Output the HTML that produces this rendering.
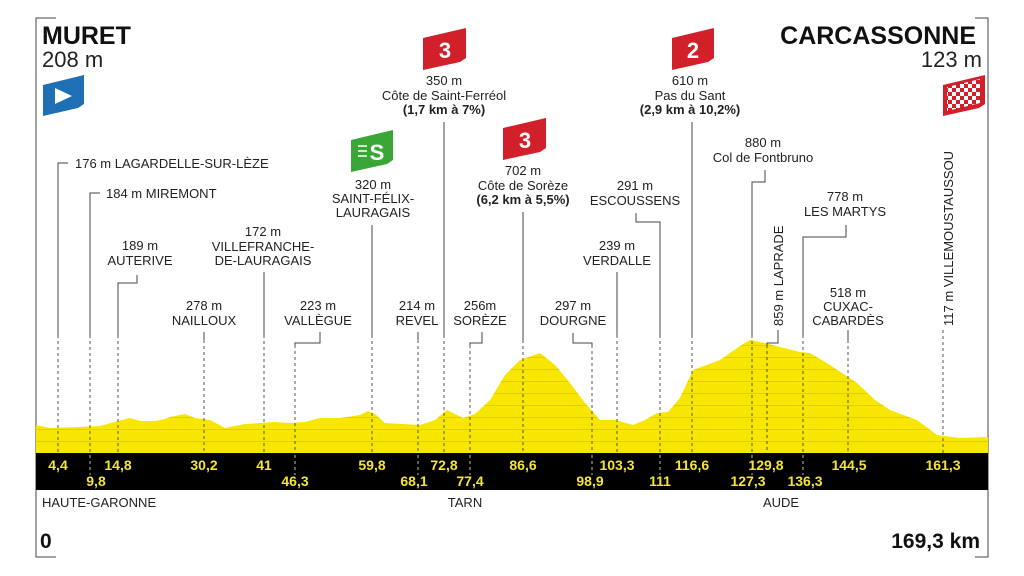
<!DOCTYPE html>
<html><head><meta charset="utf-8"><style>
html,body{margin:0;padding:0;background:#fff;}
svg{display:block;font-family:"Liberation Sans",sans-serif;}
.l{font-size:13px;fill:#222;text-anchor:middle;}
.ls{font-size:13px;fill:#222;}
.b{font-weight:bold;}
.k{font-size:14px;font-weight:bold;fill:#f3e33a;text-anchor:middle;}
.sl{stroke:#444;stroke-width:1;fill:none;}
.dl{stroke:#555;stroke-width:1;stroke-dasharray:3,3;fill:none;}
.db{stroke:#bbb;stroke-width:1;stroke-dasharray:3,3;fill:none;}
</style></head><body>
<svg width="1024" height="576" viewBox="0 0 1024 576" xmlns="http://www.w3.org/2000/svg">
<defs>
<pattern id="st" width="10" height="12" patternUnits="userSpaceOnUse" y="453">
<rect width="10" height="12" fill="#f7e600"/><rect y="0" width="10" height="1" fill="#e2cd00"/>
</pattern>
<pattern id="chk" width="8" height="8" patternUnits="userSpaceOnUse">
<rect width="8" height="8" fill="#fff"/><rect width="4" height="4" fill="#d2202a"/><rect x="4" y="4" width="4" height="4" fill="#d2202a"/>
</pattern>
</defs>
<!-- frame -->
<path d="M56,18 H36 V557 H56" class="sl" stroke="#888"/>
<path d="M975,18 H988 V557 H975" class="sl" stroke="#888"/>
<!-- titles -->
<text x="42" y="44" font-size="25" font-weight="bold" fill="#111">MURET</text>
<text x="42" y="67" font-size="22" fill="#222">208 m</text>
<text x="976" y="44" font-size="25" font-weight="bold" fill="#111" text-anchor="end">CARCASSONNE</text>
<text x="982" y="67" font-size="22" fill="#222" text-anchor="end">123 m</text>
<!-- start icon -->
<path d="M43,85 L84,75 L84,104 L78,108 L43,116 Z" fill="#1f6fb5"/>
<path d="M55,88 L72,96 L55,104 Z" fill="#fff"/>
<!-- finish -->
<path d="M943,85 L985,75 L985,104 L979,108 L943,116 Z" fill="#d2202a"/>
<path d="M947,87 L980,79 L980,103 L947,111 Z" fill="url(#chk)"/>
<!-- cat icons -->
<g font-weight="bold" font-size="22" fill="#fff" text-anchor="middle">
<path d="M423,38 L466,28 L466,58 L460,62 L423,70 Z" fill="#d2202a"/><text x="445" y="58">3</text>
<path d="M503,128 L546,118 L546,148 L540,152 L503,160 Z" fill="#d2202a"/><text x="525" y="148">3</text>
<path d="M672,38 L714,28 L714,58 L708,62 L672,70 Z" fill="#d2202a"/><text x="693" y="58">2</text>
<path d="M351,140 L393,130 L393,160 L387,164 L351,172 Z" fill="#3aa635"/><text x="377" y="160">S</text>
<path d="M358,146h9M358,151h9M358,156h9" stroke="#fff" stroke-width="1.5"/>
</g>
<!-- profile -->
<path d="M36,425 L50,428 L80,427 L100,426 L118,421 L130,418 L140,421 L155,421 L165,419 L170,417 L185,414 L195,418 L210,420 L225,428 L245,424 L275,422 L290,423 L305,422 L320,418 L340,418 L360,415 L368,411 L375,414 L385,423 L420,425 L435,420 L447,410 L455,414 L463,418 L475,414 L490,400 L505,375 L520,360 L540,353 L555,365 L570,383 L585,403 L600,420 L615,420 L633,425 L645,420 L657,413 L668,412 L680,398 L693,370 L720,360 L740,346 L750,340 L765,343 L780,347 L800,352 L810,353 L830,365 L857,383 L875,400 L890,410 L917,420 L937,435 L960,438 L988,437 L988,453 L36,453 Z" fill="url(#st)"/>
<rect x="36" y="453" width="952" height="37" fill="#000"/>
<!-- connectors -->
<g class="sl">
<path d="M68,163 H58 V335"/>
<path d="M100,193 H90 V335"/>
<path d="M137,275 V283 H118 V335"/>
<path d="M204,332 V340"/>
<path d="M264,272 V335"/>
<path d="M320,332 V343 H295 V345"/>
<path d="M372,225 V335"/>
<path d="M418,332 V340"/>
<path d="M444,122 V335"/>
<path d="M482,332 V343 H470 V345"/>
<path d="M523,212 V340"/>
<path d="M573,333 V343 H592 V345"/>
<path d="M617,272 V335"/>
<path d="M636,213 V222 H660 V335"/>
<path d="M692,122 V335"/>
<path d="M765,170 V182 H752 V335"/>
<path d="M778,330 V343 H767 V345"/>
<path d="M846,225 V237 H803 V335"/>
<path d="M848,330 V340"/>
</g>
<g class="dl">
<path d="M58,335V453M90,335V453M118,335V453M204,340V453M264,335V453M295,345V453M372,335V453M418,340V453M444,335V453M470,345V453M523,340V453M592,345V453M617,335V453M660,335V453M692,335V453M752,335V453M767,345V453M803,335V453M848,340V453M943,330V453"/>
</g>
<g class="db">
<path d="M90,455V475M295,455V475M418,455V475M470,455V475M592,455V475M660,455V475M752,455V475M803,455V475"/>
</g>
<!-- labels -->
<text class="ls" x="75" y="168">176 m LAGARDELLE-SUR-LÈZE</text>
<text class="ls" x="106" y="198">184 m MIREMONT</text>
<text class="l" x="140" y="250">189 m</text><text class="l" x="140" y="265">AUTERIVE</text>
<text class="l" x="204" y="310">278 m</text><text class="l" x="204" y="325">NAILLOUX</text>
<text class="l" x="263" y="236">172 m</text><text class="l" x="263" y="251">VILLEFRANCHE-</text><text class="l" x="263" y="265">DE-LAURAGAIS</text>
<text class="l" x="318" y="310">223 m</text><text class="l" x="318" y="325">VALLÈGUE</text>
<text class="l" x="373" y="189">320 m</text><text class="l" x="373" y="203">SAINT-FÉLIX-</text><text class="l" x="373" y="217">LAURAGAIS</text>
<text class="l" x="417" y="310">214 m</text><text class="l" x="417" y="325">REVEL</text>
<text class="l" x="444" y="85">350 m</text><text class="l" x="444" y="100">Côte de Saint-Ferréol</text><text class="l b" x="444" y="114">(1,7 km à 7%)</text>
<text class="l" x="480" y="310">256m</text><text class="l" x="480" y="325">SORÈZE</text>
<text class="l" x="523" y="175">702 m</text><text class="l" x="523" y="190">Côte de Sorèze</text><text class="l b" x="523" y="204">(6,2 km à 5,5%)</text>
<text class="l" x="573" y="310">297 m</text><text class="l" x="573" y="325">DOURGNE</text>
<text class="l" x="617" y="250">239 m</text><text class="l" x="617" y="265">VERDALLE</text>
<text class="l" x="635" y="190">291 m</text><text class="l" x="635" y="205">ESCOUSSENS</text>
<text class="l" x="690" y="85">610 m</text><text class="l" x="690" y="100">Pas du Sant</text><text class="l b" x="690" y="114">(2,9 km à 10,2%)</text>
<text class="l" x="763" y="147">880 m</text><text class="l" x="763" y="162">Col de Fontbruno</text>
<text class="l" x="845" y="201">778 m</text><text class="l" x="845" y="216">LES MARTYS</text>
<text class="l" x="848" y="297">518 m</text><text class="l" x="848" y="311">CUXAC-</text><text class="l" x="848" y="325">CABARDÈS</text>
<text class="ls" transform="translate(783,326) rotate(-90)">859 m LAPRADE</text>
<text class="ls" transform="translate(953,326) rotate(-90)">117 m VILLEMOUSTAUSSOU</text>
<!-- km labels -->
<text class="k" x="58" y="470">4,4</text>
<text class="k" x="96" y="486">9,8</text>
<text class="k" x="118" y="470">14,8</text>
<text class="k" x="204" y="470">30,2</text>
<text class="k" x="264" y="470">41</text>
<text class="k" x="295" y="486">46,3</text>
<text class="k" x="372" y="470">59,8</text>
<text class="k" x="414" y="486">68,1</text>
<text class="k" x="444" y="470">72,8</text>
<text class="k" x="470" y="486">77,4</text>
<text class="k" x="523" y="470">86,6</text>
<text class="k" x="590" y="486">98,9</text>
<text class="k" x="617" y="470">103,3</text>
<text class="k" x="660" y="486">111</text>
<text class="k" x="692" y="470">116,6</text>
<text class="k" x="748" y="486">127,3</text>
<text class="k" x="766" y="470">129,8</text>
<text class="k" x="805" y="486">136,3</text>
<text class="k" x="849" y="470">144,5</text>
<text class="k" x="943" y="470">161,3</text>
<!-- regions -->
<text x="42" y="507" font-size="13" fill="#222">HAUTE-GARONNE</text>
<text x="465" y="507" font-size="13" fill="#222" text-anchor="middle">TARN</text>
<text x="781" y="507" font-size="13" fill="#222" text-anchor="middle">AUDE</text>
<text x="40" y="548" font-size="21" font-weight="bold" fill="#111">0</text>
<text x="980" y="548" font-size="21" font-weight="bold" fill="#111" text-anchor="end">169,3 km</text>
</svg>
</body></html>
